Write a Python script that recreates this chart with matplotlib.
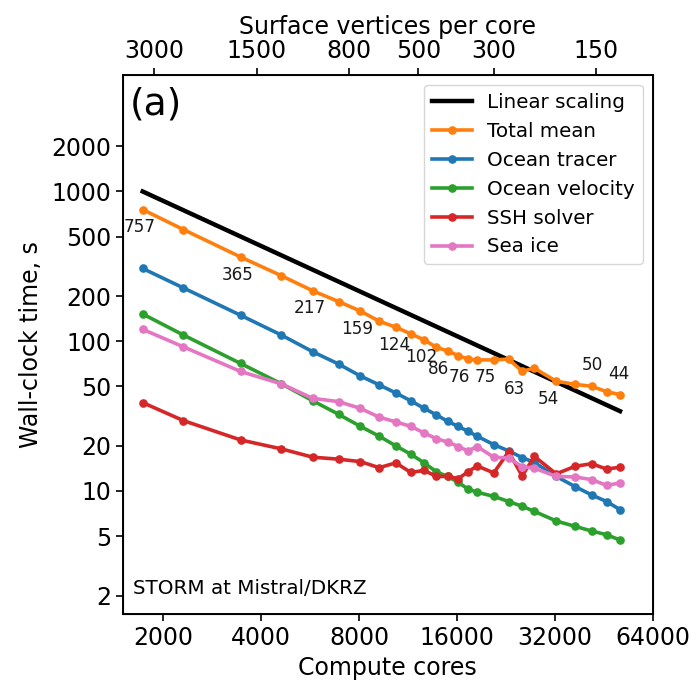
import matplotlib
matplotlib.use("Agg")
import matplotlib.pyplot as plt
from matplotlib.ticker import FixedLocator, FixedFormatter, NullLocator

# compute cores (36-core nodes on Mistral)
cores = [1728, 2304, 3456, 4608, 5760, 6912, 8064, 9216, 10368, 11520,
         12672, 13824, 14976, 16128, 17280, 18432, 20736, 23040, 25344,
         27648, 32256, 36864, 41472, 46080, 50688]

total_mean = [757, 557, 365, 274, 217, 184, 159, 136, 124, 112,
              102, 91, 86, 80, 76, 75, 75, 76, 63,
              66, 54, 51.5, 50, 46, 44]
ocean_tracer = [306, 227, 149, 110, 85, 70.4, 58.6, 51.1, 45.1, 40,
                35.6, 32.2, 29.1, 27, 25, 23.2, 20.4, 18.5, 16.7,
                15.5, 12.5, 10.7, 9.4, 8.5, 7.5]
ocean_velocity = [152, 110, 71, 52, 40, 32.5, 27, 23.2, 20, 17.6,
                  15.4, 13.4, 12.5, 11.4, 10.3, 9.8, 9.2, 8.5, 7.9,
                  7.3, 6.3, 5.8, 5.4, 5.1, 4.7]
ssh_solver = [38.9, 29.5, 21.9, 19.1, 16.8, 16.3, 15.7, 14.3, 15.4, 13.3,
              13.7, 12.5, 12.5, 12.1, 13.4, 14.7, 13.2, 18.3, 12.6,
              17.0, 13.0, 14.6, 15.2, 14.0, 14.4]
sea_ice = [120, 91.7, 62.8, 51.9, 41.5, 39.5, 35.6, 31.1, 28.9, 27,
           24.4, 22.3, 21.2, 19.8, 18.5, 19.8, 16.8, 16.6, 14.5,
           14.2, 12.5, 12.4, 11.9, 10.9, 11.3]

linear_cores = [1728, 50688]
linear_time = [1000, 34.1]

y_ticks = [2, 5, 10, 20, 50, 100, 200, 500, 1000, 2000]
x_ticks = [2000, 4000, 8000, 16000, 32000, 64000]
top_ticks = [3000, 1500, 800, 500, 300, 150]

series = [
    ("Total mean", total_mean, "#ff7f0e"),
    ("Ocean tracer", ocean_tracer, "#1f77b4"),
    ("Ocean velocity", ocean_velocity, "#2ca02c"),
    ("SSH solver", ssh_solver, "#d62728"),
    ("Sea ice", sea_ice, "#e377c2"),
]

fig = plt.figure(figsize=(6.98, 6.84), dpi=100)
ax = fig.add_axes([0.1758, 0.1019, 0.7597, 0.7885])

ax.plot(linear_cores, linear_time, color="black", lw=3.2, label="Linear scaling")
for name, vals, col in series:
    ax.plot(cores, vals, "-o", color=col, lw=2.6, ms=5.2, label=name)

ax.set_xscale("log")
ax.set_yscale("log")
ax.set_xlim(1500, 64000)
ax.set_ylim(1.5, 6000)

ax.xaxis.set_major_locator(FixedLocator(x_ticks))
ax.xaxis.set_major_formatter(FixedFormatter([str(t) for t in x_ticks]))
ax.xaxis.set_minor_locator(NullLocator())
ax.yaxis.set_major_locator(FixedLocator(y_ticks))
ax.yaxis.set_major_formatter(FixedFormatter([str(t) for t in y_ticks]))
ax.yaxis.set_minor_locator(NullLocator())
ax.tick_params(labelsize=17, length=5, width=1.2)
for s in ax.spines.values():
    s.set_linewidth(1.4)

ax.set_xlabel("Compute cores", fontsize=17, labelpad=4)
ax.set_ylabel("Wall-clock time, s", fontsize=17, labelpad=6)

# value labels on every other point of the total mean
label_dx = [-3, -3, -3, -3, -2, -3, -9, -9, -8, -8, -8, 1, -1]
for k, i in enumerate(range(0, len(cores), 2)):
    dy = -17.5 if i < 22 else 21
    ax.annotate(f"{total_mean[i]:.0f}", (cores[i], total_mean[i]),
                xytext=(label_dx[k], dy), textcoords="offset pixels",
                ha="center", va="center", fontsize=12.2, color="#1a1a1a")

ax.text(0.014, 0.978, "(a)", transform=ax.transAxes, fontsize=27,
        ha="left", va="top")
ax.text(0.0194, 0.0376, "STORM at Mistral/DKRZ", transform=ax.transAxes,
        fontsize=14.3, ha="left", va="baseline")

ax.legend(loc="upper right", fontsize=14.3, numpoints=1, handlelength=2.0)

top = ax.twiny()
top.set_xscale("log")
top.set_xlim(3720, 101.7)
top.xaxis.set_major_locator(FixedLocator(top_ticks))
top.xaxis.set_major_formatter(FixedFormatter([str(t) for t in top_ticks]))
top.xaxis.set_minor_locator(NullLocator())
top.tick_params(labelsize=17, length=5, width=1.2)
top.set_xlabel("Surface vertices per core", fontsize=17, labelpad=4)

fig.savefig("out.png", dpi=100)
